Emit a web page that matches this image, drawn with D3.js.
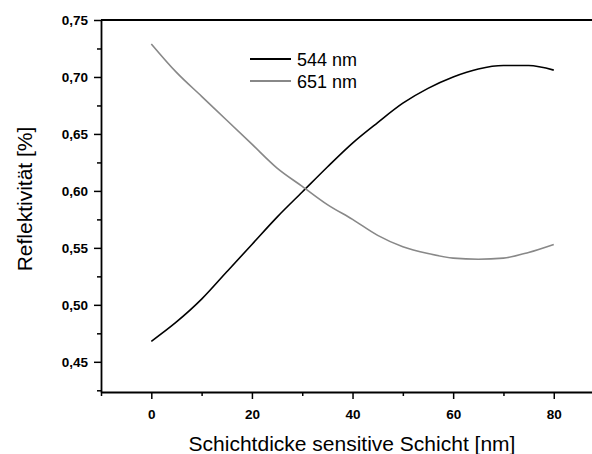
<!DOCTYPE html>
<html>
<head>
<meta charset="utf-8">
<script src="https://cdn.jsdelivr.net/npm/d3@7"></script>
<style>
  body { margin: 0; background: #fff; }
  svg { display: block; font-family: "Liberation Sans", Arial, sans-serif; }
</style>
</head>
<body>
<svg id="chart" width="592" height="454"></svg>
<script>
// Schichtdicke [nm]
var thickness = [0, 5, 10, 15, 20, 25, 30, 35, 40, 45, 50, 55, 60, 65, 70, 75, 80];
// Reflektivität bei 544 nm
var refl544 = [0.468, 0.485, 0.505, 0.529, 0.553, 0.577, 0.599, 0.621, 0.642, 0.660, 0.677, 0.690, 0.700, 0.707, 0.710, 0.710, 0.706];
// Reflektivität bei 651 nm
var refl651 = [0.729, 0.704, 0.683, 0.662, 0.641, 0.620, 0.604, 0.588, 0.575, 0.561, 0.551, 0.545, 0.541, 0.540, 0.541, 0.546, 0.553];

var xMajor = [0, 20, 40, 60, 80];
var xMinor = [-10, 10, 30, 50, 70];
var yMajor = [0.45, 0.50, 0.55, 0.60, 0.65, 0.70, 0.75];
var yMinor = [0.425, 0.475, 0.525, 0.575, 0.625, 0.675, 0.725];

var seriesNames = ["544 nm", "651 nm"];
var seriesColors = ["#000000", "#888888"];

var svg = d3.select("#chart");

var plotLeft = 101, plotRight = 592, plotTop = 20, plotBottom = 392;

var x = d3.scaleLinear().domain([-10, 87.6]).range([plotLeft, plotRight]);
var y = d3.scaleLinear().domain([0.4235, 0.75]).range([plotBottom, plotTop]);

var fmt = function(d) { return d3.format(".2f")(d).replace(".", ","); };

// minor ticks first
svg.append("g")
    .attr("transform", "translate(" + plotLeft + ",0)")
    .call(d3.axisLeft(y).tickValues(yMinor).tickSize(4).tickSizeOuter(0).tickFormat(""))
    .call(function(g) { g.select(".domain").remove(); });
svg.append("g")
    .attr("transform", "translate(0," + plotBottom + ")")
    .call(d3.axisBottom(x).tickValues(xMinor).tickSize(4).tickSizeOuter(0).tickFormat(""))
    .call(function(g) { g.select(".domain").remove(); });

// y axis
svg.append("g")
    .attr("transform", "translate(" + plotLeft + ",0)")
    .call(d3.axisLeft(y).tickValues(yMajor).tickSize(7).tickSizeOuter(0).tickPadding(6).tickFormat(fmt));

// x axis
svg.append("g")
    .attr("transform", "translate(0," + plotBottom + ")")
    .call(d3.axisBottom(x).tickValues(xMajor).tickSize(7).tickSizeOuter(0).tickPadding(10).tickFormat(d3.format("d")));

svg.selectAll(".tick line").attr("stroke", "#000").attr("stroke-width", 1.5);
svg.selectAll(".domain").attr("stroke", "#000").attr("stroke-width", 1.8);
svg.selectAll(".tick text")
    .attr("fill", "#000")
    .attr("font-size", 13)
    .attr("font-weight", "bold")
    .style("font-size", "13.5px")
    .style("font-weight", "bold");

// top frame line
svg.append("line")
    .attr("x1", plotLeft).attr("x2", plotRight)
    .attr("y1", y(0.75)).attr("y2", y(0.75))
    .attr("stroke", "#000")
    .attr("stroke-width", 1.8);

// curves
var line = d3.line()
    .x(function(d) { return x(d[0]); })
    .y(function(d) { return y(d[1]); })
    .curve(d3.curveMonotoneX);

[refl544, refl651].forEach(function(vals, i) {
  svg.append("path")
      .datum(thickness.map(function(t, j) { return [t, vals[j]]; }))
      .attr("fill", "none")
      .attr("stroke", seriesColors[i])
      .attr("stroke-width", 1.6)
      .attr("d", line);
});

// legend
var legend = svg.append("g");
seriesNames.forEach(function(name, i) {
  var ly = 59 + i * 22;
  legend.append("line")
      .attr("x1", 250).attr("x2", 291)
      .attr("y1", ly).attr("y2", ly)
      .attr("stroke", seriesColors[i])
      .attr("stroke-width", 2);
  legend.append("text")
      .attr("x", 297)
      .attr("y", ly + 6.5)
      .style("font-size", "18px")
      .attr("fill", "#000")
      .text(name);
});

// axis titles
svg.append("text")
    .attr("transform", "translate(31.5,199) rotate(-90)")
    .attr("text-anchor", "middle")
    .style("font-size", "21px")
    .attr("fill", "#000")
    .text("Reflektivität [%]");

svg.append("text")
    .attr("x", 352)
    .attr("y", 451)
    .attr("text-anchor", "middle")
    .style("font-size", "21px")
    .attr("fill", "#000")
    .text("Schichtdicke sensitive Schicht [nm]");
</script>
</body>
</html>
